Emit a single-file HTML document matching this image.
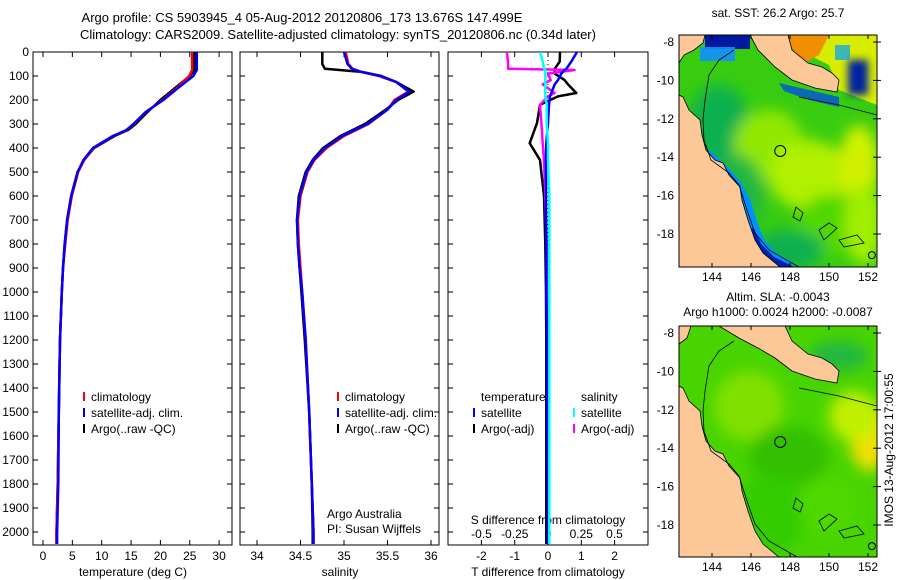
<!DOCTYPE html>
<html><head><meta charset="utf-8">
<style>
html,body{margin:0;padding:0;background:#fff;}
svg{display:block;font-family:"Liberation Sans",sans-serif;}
text{font-size:12px;fill:#000;}
</style></head>
<body>
<svg id="fig" width="900" height="580" viewBox="0 0 900 580" xmlns="http://www.w3.org/2000/svg">
<defs>
<filter id="blur" x="-20%" y="-20%" width="140%" height="140%"><feGaussianBlur stdDeviation="7"/></filter>
<filter id="blur2" x="-50%" y="-50%" width="200%" height="200%"><feGaussianBlur stdDeviation="4"/></filter>
<clipPath id="clip1"><rect x="679" y="35" width="198" height="232"/></clipPath>
<clipPath id="clip2"><rect x="679" y="326" width="198" height="231"/></clipPath>
<clipPath id="cp1"><rect x="33" y="52" width="199" height="493"/></clipPath>
<clipPath id="cp2"><rect x="240" y="52" width="199" height="493"/></clipPath>
<clipPath id="cp3"><rect x="448" y="52" width="200" height="493"/></clipPath>
</defs>
<text x="302" y="22" text-anchor="middle" style="font-size:13px">Argo profile: CS 5903945_4 05-Aug-2012 20120806_173 13.676S 147.499E</text>
<text x="338" y="39" text-anchor="middle" style="font-size:13px">Climatology: CARS2009. Satellite-adjusted climatology: synTS_20120806.nc (0.34d later)</text>
<g id="axes"></g>
<g id="maps"></g>
<text transform="translate(893,450) rotate(-90)" text-anchor="middle">IMOS 13-Aug-2012 17:00:55</text>
</svg>
<script>
// ---- data ----
const depthT = [0,75,100,150,200,250,300,325,350,400,450,500,600,700,800,900,1000,1200,1500,1800,2000,2050];
const climT  = [25.4,25.4,24.9,22.8,20.4,17.5,15.5,14.3,12.0,8.6,7.0,6.0,4.9,4.2,3.8,3.4,3.2,2.9,2.7,2.5,2.3,2.3];
const satT   = [26.2,26.2,25.6,23.0,20.5,17.5,15.4,14.2,11.9,8.5,6.9,5.9,4.8,4.1,3.7,3.4,3.2,2.9,2.7,2.6,2.4,2.4];
const argoT  = [25.8,25.8,25.0,22.5,20.0,17.8,15.8,14.5,12.2,8.7,7.0,5.9,4.8,4.1,3.7,3.4,3.2,2.9,2.7,2.5,2.3,2.3];
const depthS = [0,50,70,83,100,125,165,200,240,300,350,400,450,500,600,700,800,900,1000,1200,1500,1800,2000,2050];
const climS  = [35.02,35.05,35.1,35.2,35.4,35.6,35.74,35.58,35.5,35.28,35.0,34.8,34.66,34.58,34.5,34.47,34.48,34.5,34.52,34.56,34.6,34.63,34.65,34.65];
const satS   = [35.0,35.04,35.09,35.2,35.42,35.6,35.75,35.6,35.5,35.27,34.98,34.78,34.65,34.57,34.49,34.46,34.47,34.49,34.52,34.56,34.6,34.63,34.65,34.65];
const argoS  = [34.75,34.75,34.78,35.2,35.43,35.6,35.8,35.62,35.48,35.24,34.96,34.76,34.64,34.56,34.48,34.46,34.47,34.49,34.51,34.55,34.6,34.63,34.64,34.64];
const depthD = [0,40,70,75,90,117,135,171,185,220,296,380,450,600,800,1000,1200,1500,2000,2050];
const satDT  = [0.87,0.7,0.55,0.5,0.4,0.3,0.2,0.1,0.06,0.03,0.0,-0.05,-0.06,-0.06,-0.05,-0.05,-0.03,-0.02,0.0,0.0];
const argoDT = [0.36,0.35,0.2,0.2,0.2,0.5,0.6,0.85,0.3,-0.24,-0.33,-0.55,-0.24,-0.12,-0.08,-0.06,-0.05,-0.05,-0.05,-0.05];
const satDS  = [-0.06,-0.04,-0.03,-0.02,-0.02,-0.02,-0.02,-0.02,-0.02,-0.01,-0.01,0.0,0.0,0.01,0.01,0.01,0.01,0.01,0.01,0.01];
const argoDS = [-0.31,-0.3,-0.3,0.2,0.0,0.02,-0.04,0.05,0.0,-0.06,-0.05,-0.04,-0.03,-0.02,-0.01,-0.01,0.0,0.0,0.0,0.0];
const depthTicks = [0,100,200,300,400,500,600,700,800,900,1000,1100,1200,1300,1400,1500,1600,1700,1800,1900,2000];
const tTicks = [0,5,10,15,20,25,30];
const sTicks = [34,34.5,35,35.5,36];
const sTickLabels = ["34","34.5","35","35.5","36"];
const dtTicks = [-2,-1,0,1,2];
const dsTicks = [-0.5,-0.25,0,0.25,0.5];
const lonTicks = [144,146,148,150,152];
const latTicks = [-8,-10,-12,-14,-16,-18];
const argoLon = 147.5, argoLat = -13.676;

// ---- scales ----
const yD = d => 52 + d*0.24;
const xT = t => 43 + t*5.87;
const xS = s => 257 + (s-34)*87;
const xDT = d => 548 + d*33.3;
const xDS = d => 548 + d*133;

const NS = "http://www.w3.org/2000/svg";
const axesG = document.getElementById('axes');
const mapsG = document.getElementById('maps');
function mk(tag, attrs, parent){ const e=document.createElementNS(NS,tag); for(const k in attrs) e.setAttribute(k,attrs[k]); (parent||axesG).appendChild(e); return e; }
function txt(x,y,s,anchor,parent){ const e=mk('text',{x:x,y:y,'text-anchor':anchor||'start'},parent); e.textContent=s; return e; }

function panel(x0,x1,name){
  const r = mk('rect',{x:x0,y:52,width:x1-x0,height:493,fill:'#fff',stroke:'#000','stroke-width':1});
  
  
  depthTicks.forEach(d=>{ mk('line',{x1:x0,x2:x0+5,y1:yD(d),y2:yD(d),stroke:'#000'}); mk('line',{x1:x1-5,x2:x1,y1:yD(d),y2:yD(d),stroke:'#000'}); });
}
panel(33,232,'temperature-panel');
panel(240,439,'salinity-panel');
panel(448,648,'difference-panel');
depthTicks.forEach(d=>{ const t=txt(29,yD(d)+4,String(d),'end');   });

function xticks(vals,fx,labels,ylab,name){
  vals.forEach((v,i)=>{ const x=fx(v); mk('line',{x1:x,x2:x,y1:52,y2:57,stroke:'#000'}); mk('line',{x1:x,x2:x,y1:540,y2:545,stroke:'#000'});
    const t=txt(x,ylab,labels?labels[i]:String(v),'middle');   });
}
xticks(tTicks,xT,null,560,'temperature-tick-label');
xticks(sTicks,xS,sTickLabels,560,'salinity-tick-label');
xticks(dtTicks,xDT,null,560,'t-diff-tick-label');
dsTicks.forEach(v=>{ const t=txt(xDS(v),538,String(v),'middle');   });
let a;
a=txt(133,576,'temperature (deg C)','middle');  
a=txt(340,576,'salinity','middle');  
a=txt(548,576,'T difference from climatology','middle');  
a=txt(548,524,'S difference from climatology','middle');  

mk('line',{x1:548,x2:548,y1:52,y2:545,stroke:'#000','stroke-dasharray':'1,3'});

function series(depths,vals,fx,color,w,clip,name){
  const pts = depths.map((d,i)=>fx(vals[i]).toFixed(1)+','+yD(d).toFixed(1)).join(' ');
  const p = mk('polyline',{points:pts,fill:'none',stroke:color,'stroke-width':w,'clip-path':'url(#'+clip+')','stroke-linejoin':'round'});
  
  
}
series(depthT,argoT,xT,'#000',2.5,'cp1','argo-temperature-line');
series(depthT,climT,xT,'#f00',2.5,'cp1','climatology-temperature-line');
series(depthT,satT,xT,'#00f',2.5,'cp1','satellite-temperature-line');
series(depthS,argoS,xS,'#000',2.5,'cp2','argo-salinity-line');
series(depthS,climS,xS,'#f00',2.5,'cp2','climatology-salinity-line');
series(depthS,satS,xS,'#00f',2.5,'cp2','satellite-salinity-line');
series(depthD,argoDT,xDT,'#000',2.5,'cp3','argo-t-diff-line');
series(depthD,argoDS,xDS,'#f0f',2.5,'cp3','argo-s-diff-line');
series(depthD,satDT,xDT,'#00f',2.5,'cp3','satellite-t-diff-line');
series(depthD,satDS,xDS,'#0ff',2.5,'cp3','satellite-s-diff-line');

function legend(x,y,items,name){
  items.forEach((it,i)=>{ const yy=y+i*16;
    if(it[0]) mk('rect',{x:x,y:yy-9,width:2,height:9,fill:it[0]});
    const t=txt(x+8,yy,it[1]);   });
}
legend(83,401,[['#f00','climatology'],['#00f','satellite-adj. clim.'],['#000','Argo(..raw -QC)']],'temperature-legend');
legend(337,401,[['#f00','climatology'],['#00f','satellite-adj. clim.'],['#000','Argo(..raw -QC)']],'salinity-legend');
legend(473,401,[[null,'temperature'],['#00f','satellite'],['#000','Argo(-adj)']],'t-diff-legend');
legend(573,401,[[null,'salinity'],['#0ff','satellite'],['#f0f','Argo(-adj)']],'s-diff-legend');
a=txt(327,518,'Argo Australia');  
a=txt(327,533,'PI: Susan Wijffels');  

// ---- maps ----
function P(top,arr){ return arr.map(p=>(679+p[0])+','+(top+p[1])).join(' '); }
function drawMap(top,h,clip,blobs,base,name,sst){
  const g = mk('g',{'clip-path':'url(#'+clip+')'},mapsG);
  
  
  mk('rect',{x:679,y:top,width:198,height:h,fill:base},g);
  const bg = mk('g',{filter:'url(#blur)'},g);
  blobs.forEach(b=>mk('ellipse',{cx:679+b[0],cy:top+b[1],rx:b[2],ry:b[3],fill:b[4]},bg));
  const land='#fdc897';
  if(sst){
    mk('polygon',{points:P(top,[[105,0],[198,0],[198,70],[160,55],[150,30],[120,15]]),fill:'#d8ec00'},g);
    mk('polygon',{points:P(top,[[105,0],[150,0],[140,20],[125,28],[115,15]]),fill:'#f09000'},g);
    mk('rect',{x:848,y:top+25,width:20,height:35,fill:'#0020a0',filter:'url(#blur2)'},g);
    mk('rect',{x:835,y:top+10,width:15,height:15,fill:'#00a0ff',opacity:0.7},g);
    mk('rect',{x:705,y:top,width:45,height:14,fill:'#0018a0'},g);
    mk('rect',{x:700,y:top+12,width:35,height:14,fill:'#1090ff',opacity:0.9},g);
    mk('polygon',{points:P(top,[[100,48],[130,55],[160,62],[160,72],[130,65],[105,56]]),fill:'#0050e0',opacity:0.8},g);
    mk('polyline',{points:P(top,[[27,120],[36,128],[48,140],[58,152],[66,168],[72,188],[80,208],[92,222],[112,234]]),fill:'none',stroke:'#0090ff','stroke-width':12},g);
    mk('polyline',{points:P(top,[[70,195],[78,212],[92,226],[112,236]]),fill:'none',stroke:'#0020b0','stroke-width':10},g);
    mk('polygon',{points:P(top,[[0,0],[26,0],[24,8],[15,15],[5,20],[0,28]]),fill:land,stroke:'#000','stroke-width':0.8},g);
    mk('polygon',{points:P(top,[[71,0],[109,0],[113,15],[129,28],[143,32],[153,38],[160,45],[158,57],[136,53],[113,45],[96,32],[79,15]]),fill:land,stroke:'#000','stroke-width':0.8},g);
  } else {
    mk('polygon',{points:P(top,[[0,0],[12,0],[8,12],[0,18]]),fill:land,stroke:'#000','stroke-width':0.8},g);
    mk('polygon',{points:P(top,[[40,0],[106,0],[113,15],[129,28],[143,32],[153,38],[160,45],[158,57],[136,53],[113,45],[96,32],[79,22],[60,12]]),fill:land,stroke:'#000','stroke-width':0.8},g);
  }
  mk('polygon',{points:P(top,[[0,60],[4,62],[10,75],[21,85],[23,100],[27,115],[36,125],[44,128],[50,140],[61,152],[63,165],[69,185],[76,205],[84,218],[101,232],[0,232]]),fill:land,stroke:'#000','stroke-width':0.8},g);
  // isobaths
  mk('polyline',{points:P(top,[[55,15],[40,25],[30,40],[26,65],[24,85],[25,105],[32,125],[50,138],[60,150],[68,175],[76,198],[90,215],[120,232]]),fill:'none',stroke:'#000','stroke-width':0.8},g);
  mk('polyline',{points:P(top,[[120,62],[160,70],[198,80]]),fill:'none',stroke:'#000','stroke-width':0.8},g);
  // reefs
  mk('polygon',{points:P(top,[[117,172],[124,178],[121,186],[114,182]]),fill:'none',stroke:'#000','stroke-width':0.8},g);
  mk('polygon',{points:P(top,[[140,195],[150,188],[158,193],[145,205]]),fill:'none',stroke:'#000','stroke-width':0.8},g);
  mk('polygon',{points:P(top,[[160,205],[178,200],[185,208],[165,212]]),fill:'none',stroke:'#000','stroke-width':0.8},g);
  const y8 = top+7;
  const lx = lon => 712 + (lon-144)*19.5;
  const ly = lat => y8 + (-8-lat)*19.2;
  mk('circle',{cx:lx(argoLon),cy:ly(argoLat),r:5.5,fill:'none',stroke:'#000','stroke-width':1},g);
  mk('circle',{cx:lx(152.2),cy:ly(-19.1),r:3.5,fill:'none',stroke:'#000','stroke-width':1},g);
  const fr = mk('rect',{x:679,y:top,width:198,height:h,fill:'none',stroke:'#000'},mapsG);
  
  
  lonTicks.forEach(l=>{ const x=lx(l); mk('line',{x1:x,x2:x,y1:top,y2:top+4,stroke:'#000'},mapsG); mk('line',{x1:x,x2:x,y1:top+h-4,y2:top+h,stroke:'#000'},mapsG);
    const t=txt(x,top+h+14,String(l),'middle',mapsG);   });
  latTicks.forEach(l=>{ const y=ly(l); mk('line',{x1:873,x2:881,y1:y,y2:y,stroke:'#000'},mapsG);
    const t=txt(674,y+4,String(l),'end',mapsG);   });
}
drawMap(35,232,'clip1',[[40,90,30,40,'#10b050'],[90,110,35,35,'#90e800'],[130,140,40,35,'#b0f000'],[180,130,20,40,'#d0f000'],[150,190,30,30,'#50d800'],[185,190,20,40,'#a0ee00'],[60,160,25,40,'#20b840'],[110,215,35,20,'#10b050']],'#38cc10','sst-map',true);
drawMap(326,231,'clip2',[[70,80,35,35,'#80e000'],[190,110,20,35,'#f0e000'],[175,90,25,25,'#c0f000'],[110,130,40,30,'#30c000'],[90,190,35,40,'#30cc00'],[150,180,30,30,'#50d800'],[160,30,30,15,'#20b840']],'#48d400','sla-map',false);
a=txt(778,17,'sat. SST: 26.2 Argo: 25.7','middle',mapsG);  
a=txt(778,301,'Altim. SLA: -0.0043','middle',mapsG);  
a=txt(778,316,'Argo h1000: 0.0024 h2000: -0.0087','middle',mapsG);  
</script>
</body></html>
